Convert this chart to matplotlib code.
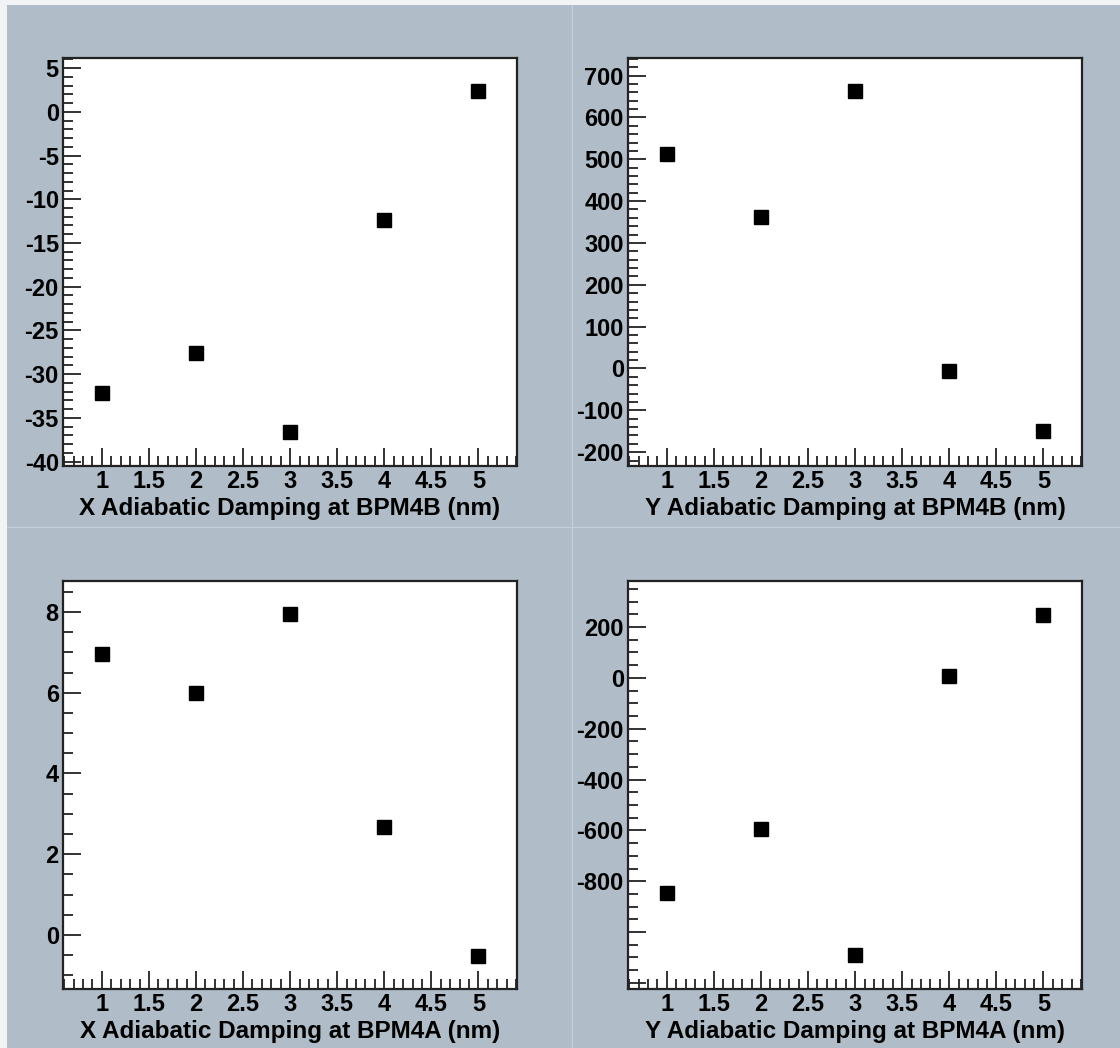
import matplotlib
matplotlib.use("Agg")
import matplotlib.pyplot as plt
from matplotlib.patches import Rectangle
from matplotlib.ticker import MultipleLocator, FuncFormatter

plt.rcParams['font.family'] = ['Liberation Sans', 'DejaVu Sans']
plt.rcParams['font.weight'] = 'bold'
plt.rcParams['axes.unicode_minus'] = False

# data
damping = [1, 2, 3, 4, 5]
x_bpm4b = [-32.1, -27.6, -36.6, -12.4, 2.4]
y_bpm4b = [512, 361, 662, -6, -150]
x_bpm4a = [6.96, 6.0, 7.95, 2.68, -0.52]
y_bpm4a = [-846, -594, -1090, 7, 248]

labels = ["X Adiabatic Damping at BPM4B (nm)", "Y Adiabatic Damping at BPM4B (nm)",
          "X Adiabatic Damping at BPM4A (nm)", "Y Adiabatic Damping at BPM4A (nm)"]
series = [x_bpm4b, y_bpm4b, x_bpm4a, y_bpm4a]
ylims = [(-40.5, 6.15), (-233, 742), (-1.34, 8.77), (-1224, 381)]
ymajor = [5, 100, 2, 200]
yminor = [1, 20, 0.5, 50]

W, H = 1120, 1048
bg = '#b0bdc8'
fig = plt.figure(figsize=(W / 100, H / 100), dpi=100, facecolor='#f2f3f4')

# pad background and the lighter seams between pads
fig.patches.append(Rectangle((7 / W, 0), 1, 1 - 5 / H, transform=fig.transFigure,
                             facecolor=bg, edgecolor='none', zorder=-10))
fig.lines.append(plt.Line2D([572 / W, 572 / W], [0, 1 - 5 / H], transform=fig.transFigure,
                            color='#c4cfd8', lw=0.8, zorder=-9))
fig.lines.append(plt.Line2D([7 / W, 1], [1 - 527 / H, 1 - 527 / H], transform=fig.transFigure,
                            color='#c4cfd8', lw=0.8, zorder=-9))

lefts = [63, 628, 63, 628]
tops = [58, 58, 581, 581]
aw, ah = 454, 408

for i in range(4):
    ax = fig.add_axes([lefts[i] / W, 1 - (tops[i] + ah) / H, aw / W, ah / H])
    ax.plot(damping, series[i], 's', color='black', ms=9.5)
    ax.set_xlim(0.587, 5.41)
    ax.set_ylim(*ylims[i])
    ax.xaxis.set_major_locator(MultipleLocator(0.5))
    ax.xaxis.set_minor_locator(MultipleLocator(0.1))
    ax.yaxis.set_major_locator(MultipleLocator(ymajor[i]))
    ax.yaxis.set_minor_locator(MultipleLocator(yminor[i]))
    ax.xaxis.set_major_formatter(FuncFormatter(lambda v, p: '%g' % v))
    if i == 3:
        ax.yaxis.set_major_formatter(FuncFormatter(lambda v, p: '' if v < -900 else '%g' % v))
    else:
        ax.yaxis.set_major_formatter(FuncFormatter(lambda v, p: '%g' % v))
    ax.tick_params(which='both', direction='in', top=False, right=False,
                   color='#222222', labelsize=17)
    ax.tick_params(which='major', length=13, width=1.3, pad=3)
    ax.tick_params(which='minor', length=7, width=1.3)
    for s in ax.spines.values():
        s.set_linewidth(1.6)
        s.set_color('#222222')
    ax.set_xlabel(labels[i], fontsize=17.5, fontweight='bold', labelpad=3)

fig.savefig("out.png", dpi=100, facecolor=fig.get_facecolor())
